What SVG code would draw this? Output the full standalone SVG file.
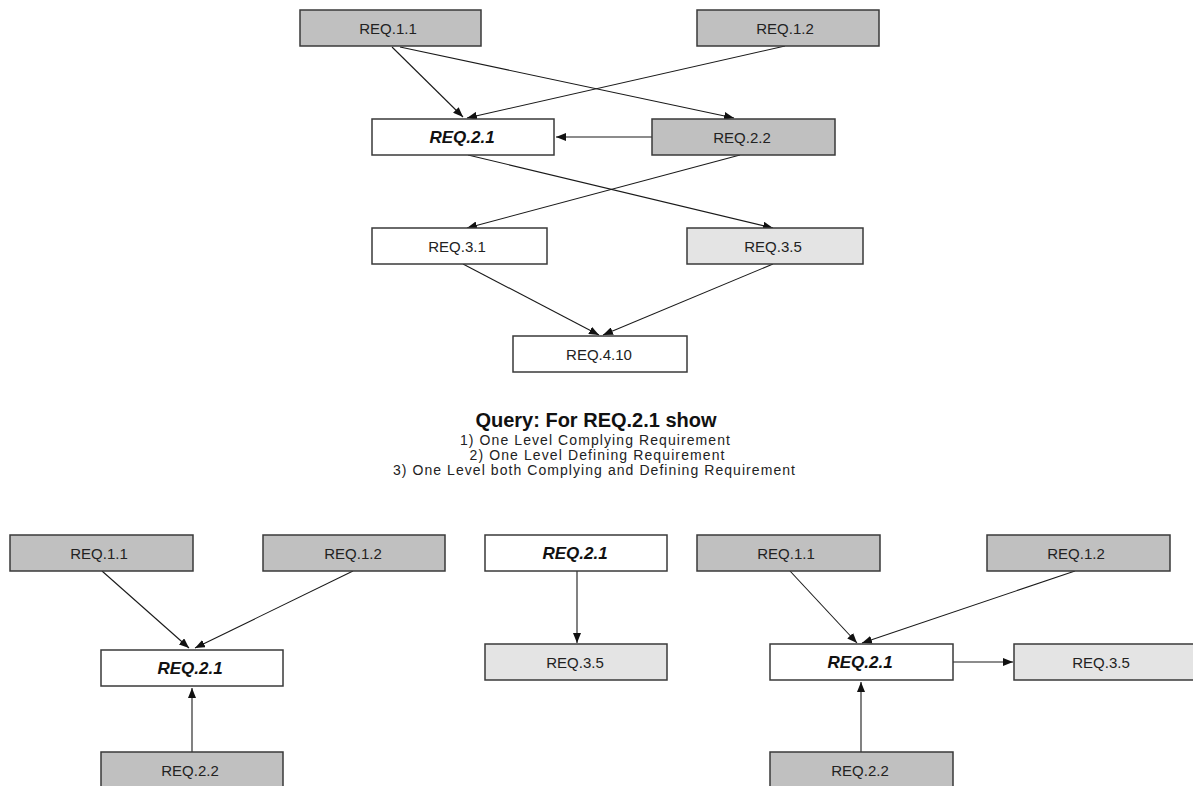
<svg xmlns="http://www.w3.org/2000/svg" width="1193" height="786" viewBox="0 0 1193 786">
  <defs>
    <marker id="arrow" viewBox="0 0 10 8" refX="10" refY="4" markerWidth="10" markerHeight="8" markerUnits="userSpaceOnUse" orient="auto">
      <path d="M0,0 L10,4 L0,8 Z" fill="#111"/>
    </marker>
    <style>
      .box { stroke: #3a3a3a; stroke-width: 1.5; }
      .dark { fill: #c0c0c0; }
      .light { fill: #e4e4e4; }
      .white { fill: #ffffff; }
      .lbl { font-family: "Liberation Sans", Arial, sans-serif; font-size: 15px; fill: #222; text-anchor: middle; dominant-baseline: central; }
      .focus { font-size: 17px; font-weight: bold; font-style: italic; fill: #111; }
      .edge { stroke: #1a1a1a; stroke-width: 1.1; fill: none; marker-end: url(#arrow); }
      .title { font-family: "Liberation Sans", Arial, sans-serif; font-size: 20px; font-weight: bold; fill: #111; text-anchor: middle; }
      .note { font-family: "Liberation Sans", Arial, sans-serif; font-size: 14px; fill: #222; text-anchor: middle; }
    </style>
  </defs>
  <rect width="1193" height="786" fill="#ffffff"/>

  <!-- Full trace graph -->
  <g id="connectors-full">
    <line class="edge" x1="392" y1="47" x2="463" y2="117"/>
    <line class="edge" x1="400" y1="47" x2="734" y2="118"/>
    <line class="edge" x1="785" y1="46" x2="467" y2="118"/>
    <line class="edge" x1="652" y1="137" x2="556" y2="137"/>
    <line class="edge" x1="468" y1="155" x2="773" y2="228"/>
    <line class="edge" x1="740" y1="155" x2="467" y2="228"/>
    <line class="edge" x1="463" y1="264" x2="599" y2="335"/>
    <line class="edge" x1="773" y1="264" x2="603" y2="335"/>
  </g>
  <g id="full-req-1-1"><rect class="box dark" x="300" y="10" width="181" height="36"/><text class="lbl" x="388" y="28">REQ.1.1</text></g>
  <g id="full-req-1-2"><rect class="box dark" x="697" y="10" width="182" height="36"/><text class="lbl" x="785" y="28">REQ.1.2</text></g>
  <g id="full-req-2-1"><rect class="box white" x="372" y="119" width="182" height="36"/><text class="lbl focus" x="462" y="137">REQ.2.1</text></g>
  <g id="full-req-2-2"><rect class="box dark" x="652" y="119" width="183" height="36"/><text class="lbl" x="742" y="137">REQ.2.2</text></g>
  <g id="full-req-3-1"><rect class="box white" x="372" y="228" width="175" height="36"/><text class="lbl" x="457" y="246">REQ.3.1</text></g>
  <g id="full-req-3-5"><rect class="box light" x="687" y="228" width="176" height="36"/><text class="lbl" x="773" y="246">REQ.3.5</text></g>
  <g id="full-req-4-10"><rect class="box white" x="513" y="336" width="174" height="36"/><text class="lbl" x="599" y="354">REQ.4.10</text></g>

  <!-- Query caption -->
  <g id="query">
    <text class="title" x="596" y="427">Query: For REQ.2.1 show</text>
    <text class="note" x="595" y="445" textLength="270" lengthAdjust="spacing">1) One Level Complying Requirement</text>
    <text class="note" x="597" y="460" textLength="255" lengthAdjust="spacing">2) One Level Defining Requirement</text>
    <text class="note" x="594" y="475" textLength="402" lengthAdjust="spacing">3) One Level both Complying and Defining Requirement</text>
  </g>

  <!-- Result 1: complying requirements -->
  <g id="connectors-q1">
    <line class="edge" x1="102" y1="571" x2="189" y2="648"/>
    <line class="edge" x1="353" y1="571" x2="195" y2="648"/>
    <line class="edge" x1="192" y1="752" x2="192" y2="688"/>
  </g>
  <g id="q1-req-1-1"><rect class="box dark" x="10" y="535" width="183" height="36"/><text class="lbl" x="99" y="553">REQ.1.1</text></g>
  <g id="q1-req-1-2"><rect class="box dark" x="263" y="535" width="182" height="36"/><text class="lbl" x="353" y="553">REQ.1.2</text></g>
  <g id="q1-req-2-1"><rect class="box white" x="101" y="650" width="182" height="36"/><text class="lbl focus" x="190" y="668">REQ.2.1</text></g>
  <g id="q1-req-2-2"><rect class="box dark" x="101" y="752" width="182" height="36"/><text class="lbl" x="190" y="770">REQ.2.2</text></g>

  <!-- Result 2: defining requirements -->
  <g id="connectors-q2">
    <line class="edge" x1="577" y1="571" x2="577" y2="643"/>
  </g>
  <g id="q2-req-2-1"><rect class="box white" x="485" y="535" width="182" height="36"/><text class="lbl focus" x="575" y="553">REQ.2.1</text></g>
  <g id="q2-req-3-5"><rect class="box light" x="485" y="644" width="182" height="36"/><text class="lbl" x="575" y="662">REQ.3.5</text></g>

  <!-- Result 3: both directions -->
  <g id="connectors-q3">
    <line class="edge" x1="790" y1="571" x2="857" y2="643"/>
    <line class="edge" x1="1075" y1="571" x2="862" y2="643"/>
    <line class="edge" x1="953" y1="662" x2="1013" y2="662"/>
    <line class="edge" x1="861" y1="752" x2="861" y2="682"/>
  </g>
  <g id="q3-req-1-1"><rect class="box dark" x="697" y="535" width="183" height="36"/><text class="lbl" x="786" y="553">REQ.1.1</text></g>
  <g id="q3-req-1-2"><rect class="box dark" x="987" y="535" width="183" height="36"/><text class="lbl" x="1076" y="553">REQ.1.2</text></g>
  <g id="q3-req-2-1"><rect class="box white" x="770" y="644" width="183" height="36"/><text class="lbl focus" x="860" y="662">REQ.2.1</text></g>
  <g id="q3-req-3-5"><rect class="box light" x="1014" y="644" width="183" height="36"/><text class="lbl" x="1101" y="662">REQ.3.5</text></g>
  <g id="q3-req-2-2"><rect class="box dark" x="770" y="752" width="183" height="36"/><text class="lbl" x="860" y="770">REQ.2.2</text></g>
</svg>
